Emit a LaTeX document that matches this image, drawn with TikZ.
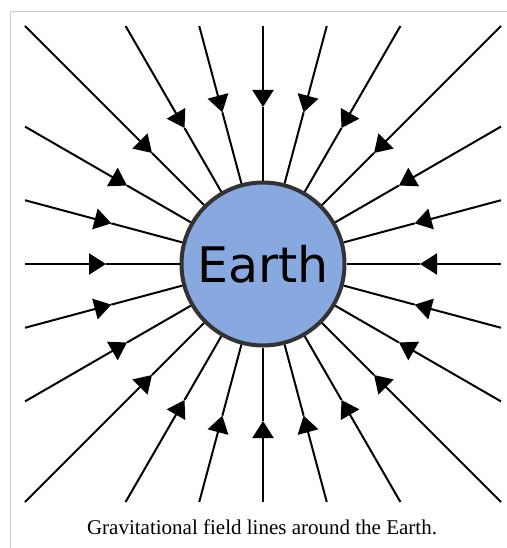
\documentclass[tikz,border=0pt]{standalone}
\usepackage{fontspec}
\setmainfont{Liberation Serif}
\newfontfamily\earthfont{DejaVu Sans}
\usetikzlibrary{arrows.meta,calc}
\definecolor{earthblue}{HTML}{87A9DF}
\definecolor{rimgray}{HTML}{333333}
\definecolor{framegray}{HTML}{CCCCCC}
\begin{document}
\begin{tikzpicture}[x=1pt,y=-1pt,
  fieldline/.style={line width=2pt,black},
  fieldarrow/.style={fieldline,-{Triangle[length=17pt,width=21pt]}},
  planet/.style={circle,draw=rimgray,line width=4pt,fill=earthblue,
    minimum size=163pt,inner sep=0pt,font=\earthfont\fontsize{49}{49}\selectfont},
  captiontext/.style={font=\fontsize{21}{21}\selectfont,anchor=base}]
\useasboundingbox (0,0) rectangle (506,548);
\draw[framegray,line width=1pt] (10.5,560) -- (10.5,11.5) -- (520,11.5);
\coordinate (c) at (263,264);
\node[planet] (earth) at (c) {Earth};
\foreach \a in {0,15,...,345}{
  \pgfmathsetmacro{\m}{max(abs(cos(\a)),abs(sin(\a)))}
  \pgfmathsetmacro{\ox}{238*cos(\a)/\m}
  \pgfmathsetmacro{\oy}{238*sin(\a)/\m}
  \coordinate (o\a) at ($(c)+(\ox,\oy)$);
  \coordinate (t\a) at ($(c)+(\a:157)$);
  \draw[fieldarrow] (o\a) -- (t\a);
  \draw[fieldline] (t\a) -- (earth);
}
\node[captiontext] (cap) at (262,534) {Gravitational field lines around the Earth.};
\end{tikzpicture}
\end{document}
